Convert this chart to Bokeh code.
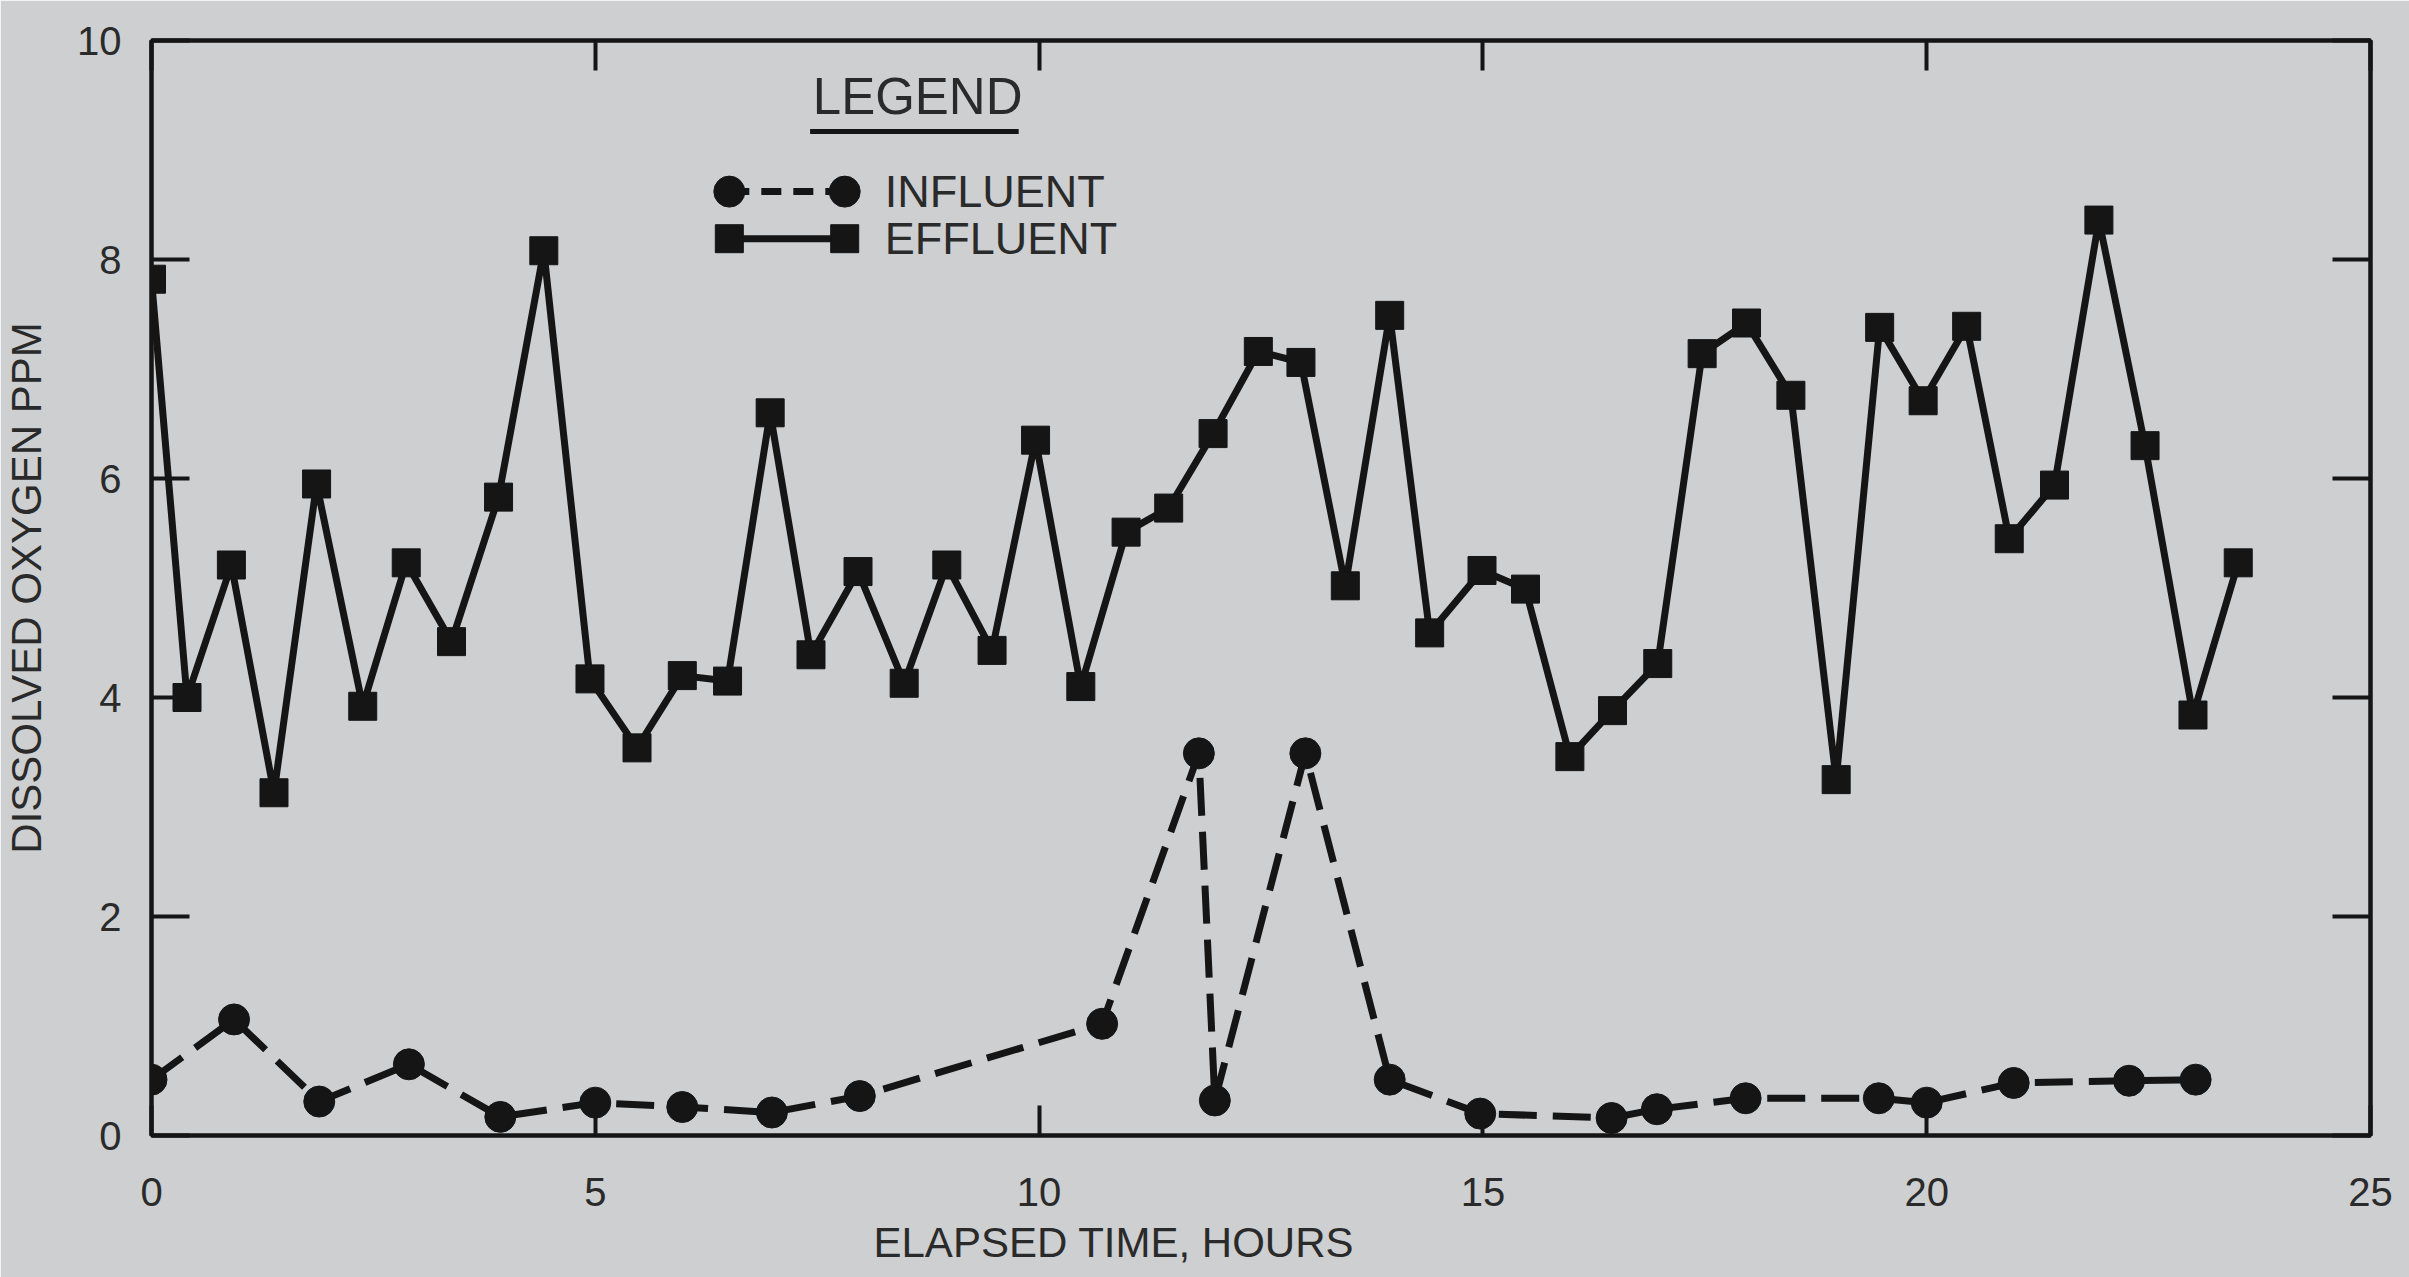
from bokeh.plotting import figure
from bokeh.models import Range1d, FixedTicker, LinearAxis, Title
from bokeh.core.properties import value
from bokeh.embed import file_html
from bokeh.resources import INLINE

# ---- data ----
effluent_hours = [0.0, 0.40, 0.90, 1.38, 1.86, 2.38, 2.87, 3.38, 3.91, 4.42,
                  4.94, 5.47, 5.98, 6.49, 6.97, 7.43, 7.96, 8.48, 8.96, 9.47,
                  9.96, 10.47, 10.98, 11.46, 11.96, 12.47, 12.95, 13.45, 13.95, 14.40,
                  14.99, 15.48, 15.98, 16.46, 16.97, 17.47, 17.97, 18.47, 18.98, 19.47,
                  19.96, 20.45, 20.93, 21.44, 21.94, 22.46, 23.00, 23.51]
effluent_do = [7.82, 4.00, 5.21, 3.13, 5.95, 3.92, 5.23, 4.51, 5.83, 8.08,
               4.17, 3.54, 4.20, 4.15, 6.60, 4.39, 5.15, 4.13, 5.21, 4.43,
               6.35, 4.10, 5.51, 5.73, 6.41, 7.16, 7.06, 5.02, 7.49, 4.59,
               5.16, 4.99, 3.46, 3.88, 4.31, 7.14, 7.42, 6.76, 3.25, 7.38,
               6.71, 7.39, 5.45, 5.94, 8.36, 6.30, 3.84, 5.23]

influent_hours = [0.0, 0.93, 1.89, 2.90, 3.93, 5.00, 5.98, 6.99, 7.98, 10.71,
                  11.80, 11.98, 13.00, 13.95, 14.97, 16.45, 16.96, 17.96, 19.46, 20.00,
                  20.98, 22.28, 23.03]
influent_do = [0.51, 1.06, 0.31, 0.65, 0.17, 0.30, 0.26, 0.21, 0.36, 1.02,
               3.49, 0.32, 3.49, 0.51, 0.20, 0.16, 0.24, 0.34, 0.34, 0.30,
               0.48, 0.50, 0.51]

x_ticks = [0, 5, 10, 15, 20, 25]
y_ticks = [0, 2, 4, 6, 8, 10]

legend_labels = ["INFLUENT", "EFFLUENT"]

# ---- styling ----
BG = "#cdcfd1"
INK = "#151515"
TXT = "#2a2a2a"
FONT = "Liberation Sans"
DASH = "38 16"

p = figure(width=2409, height=1277, output_backend="svg", toolbar_location=None,
           x_range=Range1d(0, 25), y_range=Range1d(0, 10),
           min_border_left=150, min_border_right=39, min_border_top=40, min_border_bottom=142)
p.background_fill_color = BG
p.border_fill_color = BG
p.outline_line_color = INK
p.outline_line_width = 4
p.xgrid.visible = False
p.ygrid.visible = False

# main axes
xa = p.xaxis[0]
xa.ticker = FixedTicker(ticks=x_ticks)
ya = p.yaxis[0]
ya.ticker = FixedTicker(ticks=y_ticks)
for ax, tick_in, standoff in [(xa, 30, 42), (ya, 38, 30)]:
    ax.axis_line_color = INK
    ax.axis_line_width = 4
    ax.major_tick_line_color = INK
    ax.major_tick_line_width = 4
    ax.major_tick_in = tick_in
    ax.major_tick_out = 0
    ax.minor_tick_line_color = None
    ax.major_label_text_font = FONT
    ax.major_label_text_font_size = "40px"
    ax.major_label_text_color = TXT
    ax.major_label_standoff = standoff

ya.axis_label = "DISSOLVED OXYGEN PPM"
ya.axis_label_text_font = FONT
ya.axis_label_text_font_size = "42px"
ya.axis_label_text_font_style = "normal"
ya.axis_label_text_color = TXT
ya.axis_label_standoff = 24

# mirrored axes (ticks only)
top = LinearAxis(ticker=FixedTicker(ticks=x_ticks))
right = LinearAxis(ticker=FixedTicker(ticks=y_ticks))
for ax, tick_in in [(top, 30), (right, 38)]:
    ax.axis_line_color = INK
    ax.axis_line_width = 4
    ax.major_tick_line_color = INK
    ax.major_tick_line_width = 4
    ax.major_tick_in = tick_in
    ax.major_tick_out = 0
    ax.minor_tick_line_color = None
    ax.major_label_text_font_size = "1px"
    ax.major_label_text_color = None
    ax.major_label_standoff = 0
p.add_layout(top, "above")
p.add_layout(right, "right")

p.add_layout(Title(text="ELAPSED TIME, HOURS", align="left", offset=722,
                   text_font=FONT, text_font_size="42px", text_font_style="normal",
                   text_color=TXT, standoff=16), "below")

# ---- series ----
p.line(influent_hours, influent_do, line_color=INK, line_width=7, line_dash=DASH)
p.scatter(influent_hours, influent_do, marker="circle", size=31,
          fill_color=INK, line_color=INK)
p.line(effluent_hours, effluent_do, line_color=INK, line_width=7)
p.scatter(effluent_hours, effluent_do, marker="square", size=28,
          fill_color=INK, line_color=INK)

# ---- hand-drawn legend (position anchored in data units) ----
lg_x0, lg_x1 = 6.51, 7.81
lg_rows = [8.62, 8.19]
lg_text_x = 8.26
p.line([lg_x0, lg_x1], [lg_rows[0]] * 2, line_color=INK, line_width=7, line_dash="20 12")
p.scatter([lg_x0, lg_x1], [lg_rows[0]] * 2, marker="circle", size=31, fill_color=INK, line_color=INK)
p.line([lg_x0, lg_x1], [lg_rows[1]] * 2, line_color=INK, line_width=7)
p.scatter([lg_x0, lg_x1], [lg_rows[1]] * 2, marker="square", size=28, fill_color=INK, line_color=INK)
p.text(x=[lg_text_x] * 2, y=lg_rows, text=legend_labels, text_baseline="middle",
       text_font=value(FONT), text_font_size="45px", text_color=TXT)
p.text(x=[7.45], y=[9.49], text=["LEGEND"], text_baseline="middle",
       text_font=value(FONT), text_font_size="51px", text_color=TXT)
p.line([7.42, 9.77], [9.17, 9.17], line_color=INK, line_width=5)

open("out.html", "w").write(file_html(p, INLINE))
